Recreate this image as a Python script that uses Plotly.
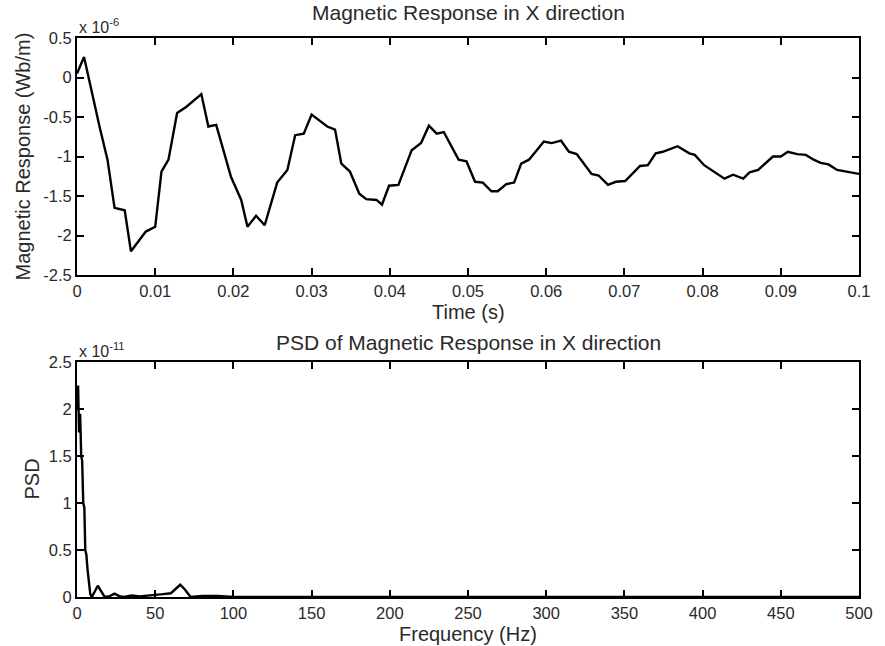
import plotly.graph_objects as go

# ---- Data ----
time_s = [0, 0.0009, 0.0029, 0.0039, 0.0048, 0.0061, 0.0069, 0.0088, 0.0100, 0.0108,
          0.0117, 0.0128, 0.0140, 0.0159, 0.0168, 0.0178, 0.0197, 0.0210, 0.0218, 0.0229,
          0.0240, 0.0256, 0.0269, 0.0279, 0.029, 0.030, 0.032, 0.033, 0.0338, 0.0349,
          0.0361, 0.037, 0.0383, 0.039, 0.0399, 0.0411, 0.0428, 0.044, 0.045, 0.046,
          0.0469, 0.0488, 0.0498, 0.0509, 0.0519, 0.053, 0.0538, 0.0549, 0.0559, 0.0568,
          0.0578, 0.0589, 0.0597, 0.0607, 0.0619, 0.0629, 0.0639, 0.0658, 0.0667, 0.0679,
          0.0689, 0.0701, 0.072, 0.073, 0.074, 0.0749, 0.0768, 0.0783, 0.079, 0.0802,
          0.0828, 0.0839, 0.0852, 0.086, 0.0871, 0.089, 0.09, 0.0909, 0.0921, 0.0932,
          0.0942, 0.0951, 0.0961, 0.0972, 0.0985, 0.1]
response_e6 = [0.05, 0.26, -0.63, -1.04, -1.65, -1.68, -2.2, -1.95, -1.89, -1.19,
               -1.04, -0.45, -0.37, -0.21, -0.62, -0.60, -1.26, -1.55, -1.89, -1.75,
               -1.87, -1.33, -1.17, -0.73, -0.71, -0.47, -0.62, -0.66, -1.09, -1.19,
               -1.47, -1.54, -1.55, -1.61, -1.37, -1.36, -0.92, -0.83, -0.61, -0.71,
               -0.69, -1.04, -1.06, -1.32, -1.33, -1.44, -1.44, -1.35, -1.33, -1.09,
               -1.04, -0.90, -0.81, -0.83, -0.80, -0.94, -0.97, -1.22, -1.24, -1.36,
               -1.32, -1.31, -1.12, -1.11, -0.96, -0.94, -0.87, -0.96, -0.98, -1.11,
               -1.28, -1.23, -1.28, -1.20, -1.17, -1.00, -1.00, -0.94, -0.97, -0.98,
               -1.04, -1.08, -1.10, -1.17, -1.19, -1.22]

freq_hz = [0, 0.7, 1.3, 2.0, 2.7, 3.3, 4.0, 4.7, 5.3, 6.0, 6.7, 7.6, 8.5, 9.5, 11, 13.3,
           15.5, 17.7, 21, 24, 27, 30, 35, 40, 45, 50, 55, 60, 63, 66, 69, 72.6, 80, 90,
           100, 120, 400, 410, 415, 430, 500]
psd_e11 = [2.0, 2.25, 1.75, 1.95, 1.5, 1.45, 1.0, 0.95, 0.5, 0.45, 0.3, 0.15, 0.03, 0.0,
           0.05, 0.12, 0.06, 0.0, 0.01, 0.035, 0.01, 0.0, 0.015, 0.005, 0.015, 0.02, 0.03,
           0.04, 0.09, 0.13, 0.08, 0.0, 0.01, 0.01, 0.0, 0.0, 0.0, 0.008, 0.008, 0.0, 0.0]

time_ticks = [0, 0.01, 0.02, 0.03, 0.04, 0.05, 0.06, 0.07, 0.08, 0.09, 0.1]
time_ticktext = ["0", "0.01", "0.02", "0.03", "0.04", "0.05", "0.06", "0.07", "0.08", "0.09", "0.1"]
resp_ticks = [0.5, 0, -0.5, -1, -1.5, -2, -2.5]
resp_ticktext = ["0.5", "0", "-0.5", "-1", "-1.5", "-2", "-2.5"]
freq_ticks = [0, 50, 100, 150, 200, 250, 300, 350, 400, 450, 500]
psd_ticks = [0, 0.5, 1, 1.5, 2, 2.5]
psd_ticktext = ["0", "0.5", "1", "1.5", "2", "2.5"]

FONT = "Liberation Sans, Arial, sans-serif"
TXT = "#2a2a2a"

fig = go.Figure()
fig.add_trace(go.Scatter(x=time_s, y=response_e6, mode="lines",
                         line=dict(color="black", width=2.4), xaxis="x", yaxis="y",
                         showlegend=False))
fig.add_trace(go.Scatter(x=freq_hz, y=psd_e11, mode="lines",
                         line=dict(color="black", width=2.4), xaxis="x2", yaxis="y2",
                         showlegend=False))

axis_common = dict(showline=True, linecolor="black", linewidth=2, mirror="ticks",
                   ticks="inside", ticklen=7, tickwidth=2, tickcolor="black",
                   showgrid=False, zeroline=False,
                   tickfont=dict(family=FONT, size=16.5, color=TXT))

fig.update_layout(
    width=885, height=646,
    margin=dict(l=77, r=16, t=38, b=49),
    paper_bgcolor="white", plot_bgcolor="white",
    xaxis=dict(domain=[0, 1], anchor="y", range=[0, 0.1],
               tickvals=time_ticks, ticktext=time_ticktext, **axis_common),
    yaxis=dict(domain=[0.576, 1], anchor="x", range=[-2.5, 0.5],
               tickvals=resp_ticks, ticktext=resp_ticktext, **axis_common),
    xaxis2=dict(domain=[0, 1], anchor="y2", range=[0, 500],
                tickvals=freq_ticks, ticktext=[str(v) for v in freq_ticks], **axis_common),
    yaxis2=dict(domain=[0, 0.4204], anchor="x2", range=[0, 2.5],
                tickvals=psd_ticks, ticktext=psd_ticktext, **axis_common),
)

def ann(text, xref, yref, x, y, xshift=0, yshift=0, size=17, angle=0, xanchor="center"):
    fig.add_annotation(text=text, xref=xref, yref=yref, x=x, y=y,
                       xshift=xshift, yshift=yshift, showarrow=False,
                       textangle=angle, xanchor=xanchor, yanchor="middle",
                       font=dict(family=FONT, size=size, color=TXT))

# titles
ann("Magnetic Response in X direction", "x domain", "y domain", 0.5, 1, yshift=26, size=21)
ann("PSD of Magnetic Response in X direction", "x2 domain", "y2 domain", 0.5, 1, yshift=19, size=21)
# axis titles
ann("Time (s)", "x domain", "y domain", 0.5, 0, yshift=-37, size=20)
ann("Frequency (Hz)", "x2 domain", "y2 domain", 0.5, 0, yshift=-37, size=20)
ann("Magnetic Response (Wb/m)", "x domain", "y domain", 0, 0.5, xshift=-54, size=20, angle=-90)
ann("PSD", "x2 domain", "y2 domain", 0, 0.5, xshift=-45, size=20, angle=-90)
# exponent labels
ann("x 10<sup>-6</sup>", "x domain", "y domain", 0, 1, yshift=12, size=16, xanchor="left")
ann("x 10<sup>-11</sup>", "x2 domain", "y2 domain", 0, 1, yshift=12, size=16, xanchor="left")

fig.write_html("out.html")
